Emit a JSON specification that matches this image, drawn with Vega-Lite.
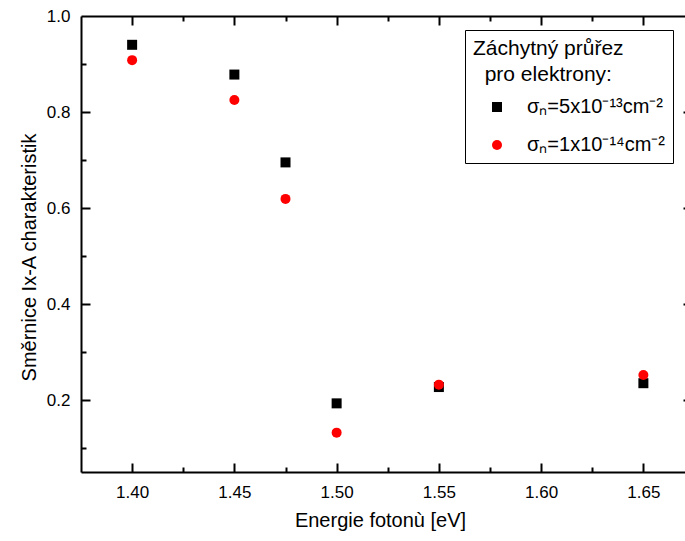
{
  "$schema": "https://vega.github.io/schema/vega-lite/v6.json",
  "autosize": {"type": "none"},
  "padding": {"left": 81, "top": 16, "right": 0, "bottom": 69},
  "width": 604,
  "height": 456,
  "background": "white",
  "config": {
    "view": {"stroke": null},
    "font": "Liberation Sans",
    "axis": {"domainColor": "black", "tickColor": "black", "domainWidth": 2, "tickWidth": 2, "labelColor": "black", "titleColor": "black", "grid": false, "labelFont": "Liberation Sans", "titleFont": "Liberation Sans", "labelFontSize": 17, "titleFontSize": 20, "titleFontWeight": "normal"}
  },
  "data": {
    "values": [
      {"E": 1.40, "k": 0.94, "s": "σₙ=5x10⁻¹³cm⁻²"},
      {"E": 1.45, "k": 0.878, "s": "σₙ=5x10⁻¹³cm⁻²"},
      {"E": 1.475, "k": 0.695, "s": "σₙ=5x10⁻¹³cm⁻²"},
      {"E": 1.50, "k": 0.193, "s": "σₙ=5x10⁻¹³cm⁻²"},
      {"E": 1.55, "k": 0.227, "s": "σₙ=5x10⁻¹³cm⁻²"},
      {"E": 1.65, "k": 0.235, "s": "σₙ=5x10⁻¹³cm⁻²"},
      {"E": 1.40, "k": 0.908, "s": "σₙ=1x10⁻¹⁴cm⁻²"},
      {"E": 1.45, "k": 0.825, "s": "σₙ=1x10⁻¹⁴cm⁻²"},
      {"E": 1.475, "k": 0.619, "s": "σₙ=1x10⁻¹⁴cm⁻²"},
      {"E": 1.50, "k": 0.132, "s": "σₙ=1x10⁻¹⁴cm⁻²"},
      {"E": 1.55, "k": 0.232, "s": "σₙ=1x10⁻¹⁴cm⁻²"},
      {"E": 1.65, "k": 0.252, "s": "σₙ=1x10⁻¹⁴cm⁻²"}
    ]
  },
  "resolve": {"axis": {"x": "independent", "y": "independent"}},
  "layer": [
    {
      "mark": {"type": "point", "filled": true, "opacity": 1, "size": 100},
      "encoding": {
        "x": {"field": "E", "type": "quantitative", "scale": {"domain": [1.375, 1.67035], "nice": false, "zero": false},
          "axis": {"orient": "bottom", "values": [1.40, 1.45, 1.50, 1.55, 1.60, 1.65], "format": ".2f", "ticks": false, "labelPadding": 12, "title": "Energie fotonù [eV]", "titlePadding": 10, "titleX": 299, "labelFlush": false}},
        "y": {"field": "k", "type": "quantitative", "scale": {"domain": [0.05, 1.0], "nice": false, "zero": false},
          "axis": {"orient": "left", "values": [0.2, 0.4, 0.6, 0.8, 1.0], "format": ".1f", "ticks": false, "labelPadding": 11, "title": "Směrnice Ix-A charakteristik", "titlePadding": 7, "titleY": 241, "labelFlush": false}},
        "color": {"field": "s", "type": "nominal", "scale": {"domain": ["σₙ=5x10⁻¹³cm⁻²", "σₙ=1x10⁻¹⁴cm⁻²"], "range": ["#000000", "#ff0000"]},
          "legend": {"orient": "none", "legendX": 384, "legendY": 14, "title": ["Záchytný průřez", "\u200b\u00a0\u00a0pro elektrony:"], "titleFontSize": 21, "titleFontWeight": "normal", "titleColor": "black", "titleLineHeight": 26, "labelFontSize": 20, "labelColor": "black", "strokeColor": "black", "padding": 8, "symbolOffset": 14, "labelOffset": 20, "rowPadding": 18, "titlePadding": 12, "symbolSize": 100}},
        "shape": {"field": "s", "type": "nominal", "scale": {"domain": ["σₙ=5x10⁻¹³cm⁻²", "σₙ=1x10⁻¹⁴cm⁻²"], "range": ["square", "circle"]}, "legend": null}
      }
    },
    {
      "mark": {"type": "point", "opacity": 0},
      "encoding": {
        "x": {"field": "E", "type": "quantitative", "axis": {"orient": "bottom", "values": [1.40, 1.45, 1.50, 1.55, 1.60, 1.65], "labels": false, "domain": false, "title": null, "offset": -9, "tickSize": 9}},
        "y": {"field": "k", "type": "quantitative", "axis": {"orient": "left", "values": [0.2, 0.4, 0.6, 0.8], "labels": false, "domain": false, "title": null, "offset": -9, "tickSize": 9}}
      }
    },
    {
      "mark": {"type": "point", "opacity": 0},
      "encoding": {
        "x": {"field": "E", "type": "quantitative", "axis": {"orient": "bottom", "values": [1.425, 1.475, 1.525, 1.575, 1.625], "labels": false, "domain": false, "title": null, "offset": -5, "tickSize": 5}},
        "y": {"field": "k", "type": "quantitative", "axis": {"orient": "left", "values": [0.1, 0.3, 0.5, 0.7, 0.9], "labels": false, "domain": false, "title": null, "offset": -5, "tickSize": 5}}
      }
    },
    {
      "mark": {"type": "point", "opacity": 0},
      "encoding": {
        "x": {"field": "E", "type": "quantitative", "axis": {"orient": "top", "labels": false, "ticks": false, "domain": true, "title": null}},
        "y": {"field": "k", "type": "quantitative", "axis": {"orient": "right", "values": [0.2, 0.4, 0.6, 0.8], "labels": false, "domain": false, "title": null, "offset": -2, "tickSize": 2}}
      }
    },
    {
      "mark": {"type": "point", "opacity": 0},
      "encoding": {
        "x": {"field": "E", "type": "quantitative", "axis": {"orient": "top", "values": [1.40, 1.45, 1.50, 1.55, 1.60, 1.65], "labels": false, "domain": false, "title": null, "offset": -9, "tickSize": 9}},
        "y": {"field": "k", "type": "quantitative", "axis": null}
      }
    },
    {
      "mark": {"type": "point", "opacity": 0},
      "encoding": {
        "x": {"field": "E", "type": "quantitative", "axis": {"orient": "top", "values": [1.425, 1.475, 1.525, 1.575, 1.625], "labels": false, "domain": false, "title": null, "offset": -5, "tickSize": 5}},
        "y": {"field": "k", "type": "quantitative", "axis": null}
      }
    }
  ]
}
